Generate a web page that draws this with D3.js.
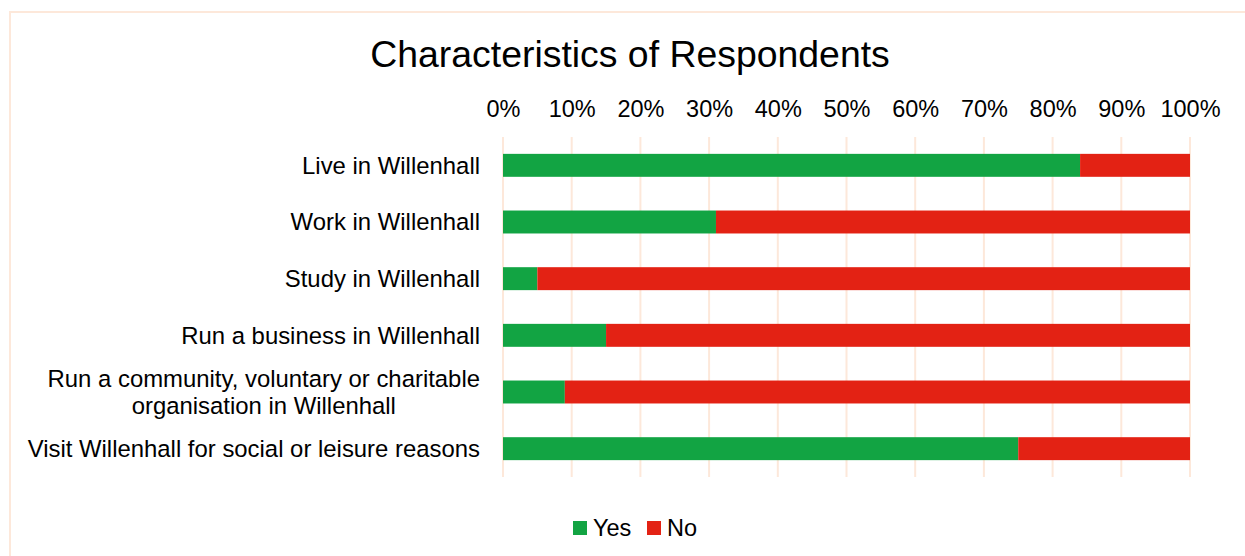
<!DOCTYPE html>
<html>
<head>
<meta charset="utf-8">
<script src="https://cdn.jsdelivr.net/npm/d3@7"></script>
<style>
  html, body { margin: 0; padding: 0; background: #ffffff; }
  svg { display: block; font-family: "Liberation Sans", Arial, sans-serif; }
</style>
</head>
<body>
<svg id="chart" width="1245" height="556"></svg>
<script>
// Survey categories (top to bottom); multi-line labels are split into lines
const categories = [
  ["Live in Willenhall"],
  ["Work in Willenhall"],
  ["Study in Willenhall"],
  ["Run a business in Willenhall"],
  ["Run a community, voluntary or charitable", "organisation in Willenhall"],
  ["Visit Willenhall for social or leisure reasons"]
];
// Share of respondents answering Yes / No (percent)
const yesValues = [84, 31, 5, 15, 9, 75];
const noValues  = [16, 69, 95, 85, 91, 25];
const seriesNames = ["Yes", "No"];
const seriesColors = ["#12a443", "#e32214"];
const tickValues = [0, 10, 20, 30, 40, 50, 60, 70, 80, 90, 100];

const svg = d3.select("#chart");
const W = 1245, H = 556;
const labelSize = 23.9;

// chart frame
svg.append("rect")
  .attr("x", 10).attr("y", 12)
  .attr("width", W + 20).attr("height", H + 20)
  .attr("fill", "#ffffff")
  .attr("stroke", "#fde8da").attr("stroke-width", 2);

const plot = { left: 503, right: 1190, top: 137, bottom: 477 };

const x = d3.scaleLinear().domain([0, 100]).range([plot.left, plot.right]);
const y = d3.scaleBand()
  .domain(d3.range(categories.length))
  .range([plot.top, plot.bottom])
  .paddingInner(0.595).paddingOuter(0.2975);

// title
svg.append("text")
  .attr("x", 630).attr("y", 67)
  .attr("text-anchor", "middle")
  .attr("font-size", 37.4).attr("fill", "#000")
  .text("Characteristics of Respondents");

// gridlines
const grid = svg.append("g");
grid.selectAll("line").data(tickValues).join("line")
  .attr("x1", d => x(d)).attr("x2", d => x(d))
  .attr("y1", plot.top).attr("y2", plot.bottom)
  .attr("stroke", "#fde8da").attr("stroke-width", 2);

// top axis labels
const axis = d3.axisTop(x)
  .tickValues(tickValues)
  .tickFormat(d => d + "%")
  .tickSize(0).tickPadding(0);
const axisG = svg.append("g")
  .attr("transform", `translate(0, ${117})`)
  .call(axis);
axisG.select(".domain").remove();
axisG.selectAll("text")
  .attr("font-size", 23.5).attr("fill", "#000")
  .attr("font-family", "Liberation Sans, Arial, sans-serif")
  .attr("dy", 0);

// stacked bars
const rows = categories.map((c, i) => ({ i, yes: yesValues[i], no: noValues[i] }));
const stack = d3.stack().keys(["yes", "no"]);
const layers = stack(rows);
layers.forEach((layer, k) => {
  svg.append("g").attr("fill", seriesColors[k])
    .selectAll("rect").data(layer).join("rect")
    .attr("x", d => x(d[0]))
    .attr("width", d => x(d[1]) - x(d[0]))
    .attr("y", d => y(d.data.i))
    .attr("height", y.bandwidth());
});

// category labels
const labelG = svg.append("g");
categories.forEach((lines, i) => {
  const cy = y(i) + y.bandwidth() / 2;
  const lineH = 27;
  const t = labelG.append("text")
    .attr("font-size", labelSize).attr("fill", "#000");
  if (lines.length === 1) {
    t.attr("x", 480).attr("y", cy).attr("dy", "0.35em")
      .attr("text-anchor", "end").text(lines[0]);
  } else {
    // wrapped label: first line right-aligned, following lines centred beneath it
    t.attr("text-anchor", "end").attr("x", 480)
      .attr("y", cy - lineH / 2).attr("dy", "0.35em").text(lines[0]);
    const w = t.node().getComputedTextLength();
    const mid = 480 - w / 2;
    lines.slice(1).forEach((ln, j) => {
      labelG.append("text")
        .attr("font-size", labelSize).attr("fill", "#000")
        .attr("text-anchor", "middle")
        .attr("x", mid).attr("y", cy - lineH / 2 + lineH * (j + 1))
        .attr("dy", "0.35em").text(ln);
    });
  }
});

// legend
const legend = svg.append("g");
const legendX = [573, 647];
seriesNames.forEach((name, k) => {
  legend.append("rect")
    .attr("x", legendX[k]).attr("y", 521)
    .attr("width", 14).attr("height", 14)
    .attr("fill", seriesColors[k]);
  legend.append("text")
    .attr("x", legendX[k] + 20).attr("y", 536)
    .attr("font-size", 23.5).attr("fill", "#000")
    .text(name);
});
</script>
</body>
</html>
